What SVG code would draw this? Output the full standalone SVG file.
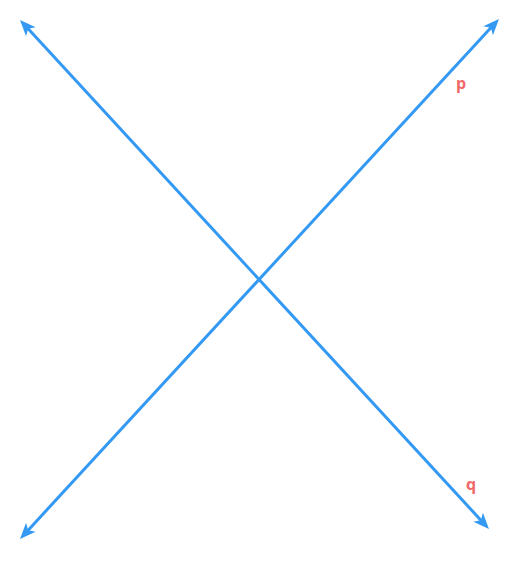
<svg xmlns="http://www.w3.org/2000/svg" width="521" height="561" viewBox="0 0 521 561">
<style>
.ln{stroke:#3399f3;stroke-width:3;fill:none}
.lbl{font-family:"Open Sans","Liberation Sans",sans-serif;font-weight:bold;font-size:16px;fill:#f06868;text-anchor:middle}
</style>
<defs>
<marker id="ah" markerUnits="userSpaceOnUse" viewBox="-8 -8 20 16" refX="0" refY="0" markerWidth="20" markerHeight="16" orient="auto-start-reverse">
<path d="M10,0 L-6,-6.5 L-2,0 L-6,6.5 Z" fill="#3399f3"/>
</marker>
</defs>
<rect width="521" height="561" fill="#ffffff"/>
<g id="connectors">
<line class="ln" x1="26.78" y1="27.35" x2="482.22" y2="521.65" marker-start="url(#ah)" marker-end="url(#ah)"/>
<line class="ln" x1="26.78" y1="531.65" x2="492.22" y2="26.35" marker-start="url(#ah)" marker-end="url(#ah)"/>
</g>
<g id="label-p"><text class="lbl" x="461" y="89">p</text></g>
<g id="label-q"><text class="lbl" x="471" y="490">q</text></g>
</svg>
